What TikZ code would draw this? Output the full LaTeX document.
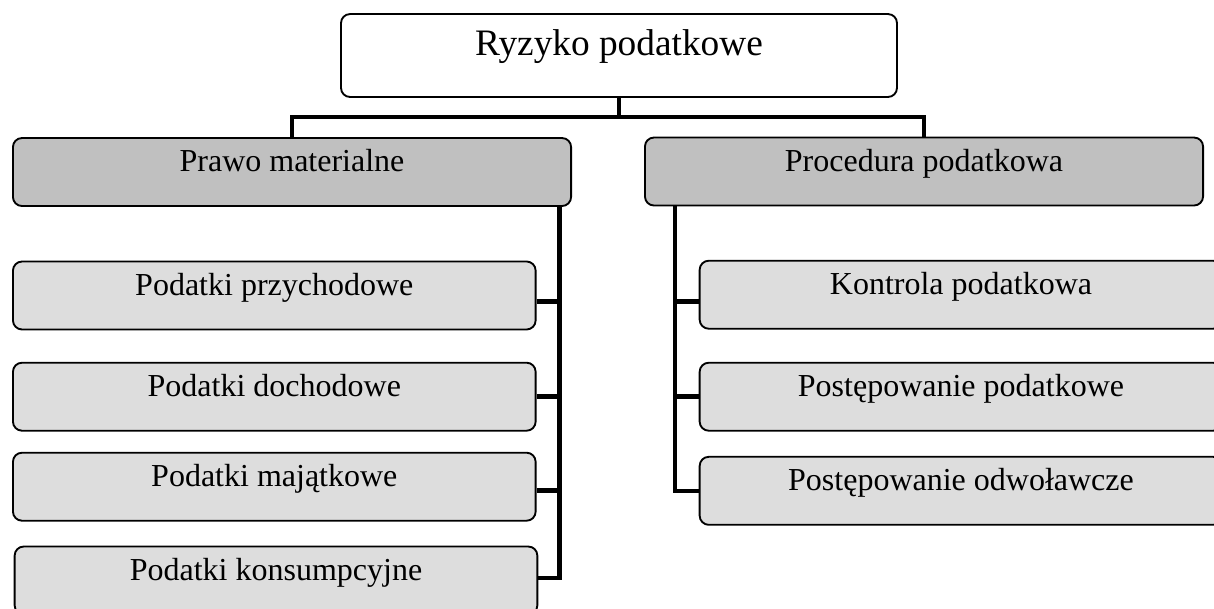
\documentclass[tikz,border=0pt]{standalone}
\usepackage{fontspec}
\setmainfont{Liberation Serif}
\usetikzlibrary{positioning}
\definecolor{headgray}{HTML}{C0C0C0}
\definecolor{itemgray}{HTML}{DDDDDD}

\begin{document}
\begin{tikzpicture}[x=0.375pt,y=-0.375pt]
\tikzstyle{box}=[draw=black, line width=0.7pt, rounded corners=3.4pt, inner xsep=0pt, inner ysep=0pt, font=\fontsize{12}{14}\selectfont, text height=12.6pt, text depth=12.9pt]
\tikzstyle{head}=[box, fill=headgray, minimum width=209.3pt]
\tikzstyle{item}=[box, fill=itemgray, minimum width=196pt]
\tikzstyle{conn}=[line width=1.7pt]
\useasboundingbox (0,0) rectangle (1214,608);
\clip (0,0) rectangle (1214,608);
\node[box, minimum width=208.5pt, text height=15.4pt, text depth=15.7pt, font=\fontsize{14}{16}\selectfont] (r) at (619,55.5) {Ryzyko podatkowe};
\node[head] (m) at (292,172) {Prawo materialne};
\node[head] (p) at (924,171.5) {Procedura podatkowa};
\foreach \n/\y/\t in {1/295.5/Podatki przychodowe,2/396.7/Podatki dochodowe,3/486.7/Podatki majątkowe}
    \node[item] (m\n) at (274.3,\y) {\t};
\node[item] (m4) at (276,580.5) {Podatki konsumpcyjne};
\foreach \n/\y/\t in {1/294.7/Kontrola podatkowa,2/396.7/Postępowanie podatkowe,3/490.8/Postępowanie odwoławcze}
    \node[item] (p\n) at (961,\y) {\t};
\coordinate (bus) at (619,117);
\coordinate (mtrunk) at (559.5,0);
\coordinate (ptrunk) at (675,0);
\draw[conn] (r.south) -- (bus);
\draw[conn] (m.north) |- (bus) -| (p.north);
\draw[conn] (mtrunk |- m.south) |- ([yshift=0.9pt]m4.east);
\foreach \n/\s in {1/-2.3,2/0,3/-1.5}
    \draw[conn] ([yshift=\s pt]m\n.east) -- ([yshift=\s pt]m\n.east -| mtrunk);
\draw[conn] (ptrunk |- p.south) |- (p3.west);
\foreach \n/\s in {1/-2.6,2/0}
    \draw[conn] ([yshift=\s pt]p\n.west) -- ([yshift=\s pt]p\n.west -| ptrunk);
\end{tikzpicture}
\end{document}
